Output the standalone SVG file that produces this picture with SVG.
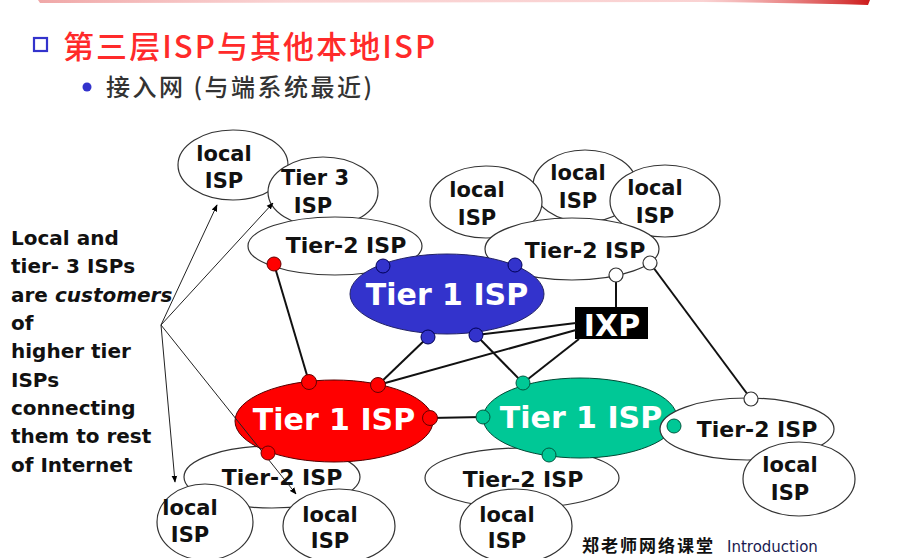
<svg xmlns="http://www.w3.org/2000/svg" width="912" height="558" viewBox="0 0 912 558">
<defs>
<linearGradient id="topbar" x1="0" y1="0" x2="1" y2="0">
<stop offset="0" stop-color="#e05050" stop-opacity="0.5"/>
<stop offset="0.3" stop-color="#f08080" stop-opacity="0.35"/>
<stop offset="0.8" stop-color="#f08080" stop-opacity="0.35"/>
<stop offset="1" stop-color="#cc1a1a"/>
</linearGradient>
<marker id="ah" viewBox="0 0 10 10" refX="9" refY="5" markerWidth="7" markerHeight="7" orient="auto" markerUnits="userSpaceOnUse">
<path d="M0,1 L10,5 L0,9 z" fill="#000"/>
</marker>
<style>
.isp{fill:#fff;stroke:#333;stroke-width:1.2}
.lbl{font-family:"DejaVu Sans","Liberation Sans",sans-serif;font-weight:bold;fill:#111;text-anchor:middle}
.loc{font-size:21px}
.t2{font-size:22px}
.t1{font-family:"DejaVu Sans","Liberation Sans",sans-serif;font-weight:bold;fill:#fff;font-size:30px;text-anchor:middle}
.side{font-family:"DejaVu Sans","Liberation Sans",sans-serif;font-weight:bold;fill:#111;font-size:20px}
.link{stroke:#111;stroke-width:2;fill:none}
.arr{stroke:#222;stroke-width:1;fill:none;marker-end:url(#ah)}
.dr{fill:#ff0000;stroke:#660000;stroke-width:1}
.db{fill:#3333cc;stroke:#000055;stroke-width:1}
.dg{fill:#00c896;stroke:#005a40;stroke-width:1}
.dw{fill:#fff;stroke:#333;stroke-width:1.2}
</style>
</defs>
<rect width="912" height="558" fill="#fff"/>
<path d="M38,0 L870,0 L868,5 Q800,3 700,2 L40,3 z" fill="url(#topbar)"/>

<g id="title">
<rect x="34" y="38" width="13" height="13" fill="#fff" stroke="#3333cc" stroke-width="2.2"/>
<text x="63" y="58" font-family="'Noto Sans CJK SC',sans-serif" font-size="31" font-weight="500" fill="#ff2a2a" textLength="372" lengthAdjust="spacing">第三层ISP与其他本地ISP</text>
<circle cx="87" cy="87" r="4.5" fill="#3333cc"/>
<text x="106" y="96" font-family="'Noto Sans CJK SC',sans-serif" font-size="24" font-weight="500" fill="#333" textLength="266" lengthAdjust="spacing">接入网 (与端系统最近)</text>
</g>

<g id="side-note">
<text class="side" x="11" y="245">Local and</text>
<text class="side" x="11" y="273">tier- 3 ISPs</text>
<text class="side" x="11" y="302">are <tspan font-style="italic">customers</tspan></text>
<text class="side" x="11" y="330">of</text>
<text class="side" x="11" y="358">higher tier</text>
<text class="side" x="11" y="387">ISPs</text>
<text class="side" x="11" y="415">connecting</text>
<text class="side" x="11" y="443">them to rest</text>
<text class="side" x="11" y="472">of Internet</text>
</g>

<g id="local-tl"><ellipse class="isp" cx="233" cy="165" rx="55" ry="35"/>
<text class="lbl loc" x="224" y="161">local</text><text class="lbl loc" x="224" y="188">ISP</text></g>
<g id="tier3"><ellipse class="isp" cx="323" cy="192" rx="55" ry="35"/>
<text class="lbl loc" x="315" y="185">Tier 3</text><text class="lbl loc" x="313" y="213">ISP</text></g>
<g id="tier2-l"><ellipse class="isp" cx="335" cy="246" rx="87" ry="29"/>
<text class="lbl t2" x="346" y="253">Tier-2 ISP</text></g>

<g id="local-tr2"><ellipse class="isp" cx="585" cy="186" rx="52" ry="36"/>
<text class="lbl loc" x="578" y="180">local</text><text class="lbl loc" x="578" y="208">ISP</text></g>
<g id="local-tr1"><ellipse class="isp" cx="486" cy="202" rx="56" ry="36"/>
<text class="lbl loc" x="477" y="197">local</text><text class="lbl loc" x="477" y="225">ISP</text></g>
<g id="local-tr3"><ellipse class="isp" cx="665" cy="201" rx="55" ry="36"/>
<text class="lbl loc" x="655" y="195">local</text><text class="lbl loc" x="655" y="223">ISP</text></g>
<g id="tier2-tr"><ellipse class="isp" cx="572" cy="249" rx="87" ry="31"/>
<text class="lbl t2" x="585" y="258">Tier-2 ISP</text></g>

<g id="tier1-blue"><ellipse cx="447" cy="294" rx="97" ry="40" fill="#3333cc" stroke="#222266" stroke-width="1"/>
<text class="t1" x="447" y="305">Tier 1 ISP</text></g>

<g id="ixp"><rect x="575" y="307" width="73" height="32" fill="#000"/>
<text class="t1" x="612" y="336" font-size="26">IXP</text></g>

<g id="tier2-bl"><ellipse class="isp" cx="272" cy="477" rx="88" ry="31"/>
<text class="lbl t2" x="282" y="485">Tier-2 ISP</text></g>
<g id="tier2-bm"><ellipse class="isp" cx="522" cy="478" rx="97" ry="30"/>
<text class="lbl t2" x="523" y="487">Tier-2 ISP</text></g>

<g id="tier1-red"><ellipse cx="334" cy="421" rx="99" ry="41" fill="#ff0000" stroke="#550000" stroke-width="1"/>
<text class="t1" x="334" y="430">Tier 1 ISP</text></g>
<g id="tier1-green"><ellipse cx="580" cy="418" rx="97" ry="40" fill="#00c896" stroke="#004a35" stroke-width="1"/>
<text class="t1" x="581" y="428">Tier 1 ISP</text></g>

<g id="tier2-r"><ellipse class="isp" cx="747" cy="429" rx="87" ry="31"/>
<text class="lbl t2" x="757" y="437">Tier-2 ISP</text></g>
<g id="local-r"><ellipse class="isp" cx="799" cy="479" rx="56" ry="37"/>
<text class="lbl loc" x="790" y="472">local</text><text class="lbl loc" x="790" y="500">ISP</text></g>

<g id="local-bl"><ellipse class="isp" cx="205" cy="522" rx="48" ry="38"/>
<text class="lbl loc" x="190" y="515">local</text><text class="lbl loc" x="190" y="542">ISP</text></g>
<g id="local-bm"><ellipse class="isp" cx="339" cy="526" rx="56" ry="37"/>
<text class="lbl loc" x="330" y="522">local</text><text class="lbl loc" x="330" y="548">ISP</text></g>
<g id="local-bm2"><ellipse class="isp" cx="516" cy="526" rx="56" ry="37"/>
<text class="lbl loc" x="507" y="522">local</text><text class="lbl loc" x="507" y="548">ISP</text></g>

<g id="connectors">
<line class="link" x1="274" y1="264" x2="309" y2="382"/>
<line class="link" x1="428" y1="337" x2="378" y2="385"/>
<line class="link" x1="476" y1="335" x2="523" y2="383"/>
<line class="link" x1="430" y1="418" x2="483" y2="417"/>
<line class="link" x1="616" y1="275" x2="616" y2="307"/>
<line class="link" x1="576" y1="323" x2="476" y2="335"/>
<line class="link" x1="576" y1="330" x2="378" y2="385"/>
<line class="link" x1="579" y1="339" x2="523" y2="383"/>
<line class="link" x1="650" y1="263" x2="751" y2="399"/>
<line class="arr" x1="161" y1="325" x2="217" y2="205"/>
<line class="arr" x1="161" y1="325" x2="273" y2="203"/>
<line class="arr" x1="161" y1="325" x2="175" y2="482"/>
<line class="arr" x1="161" y1="325" x2="296" y2="494"/>
<circle class="dr" cx="274" cy="264" r="7"/>
<circle class="db" cx="383" cy="266" r="7"/>
<circle class="db" cx="515" cy="265" r="7"/>
<circle class="db" cx="428" cy="337" r="7"/>
<circle class="db" cx="476" cy="335" r="7"/>
<circle class="dw" cx="616" cy="275" r="7"/>
<circle class="dw" cx="650" cy="263" r="7"/>
<circle class="dr" cx="309" cy="382" r="7.5"/>
<circle class="dr" cx="378" cy="385" r="7.5"/>
<circle class="dr" cx="430" cy="418" r="7.5"/>
<circle class="dr" cx="268" cy="453" r="7"/>
<circle class="dg" cx="523" cy="383" r="7"/>
<circle class="dg" cx="483" cy="417" r="7"/>
<circle class="dg" cx="549" cy="455" r="7"/>
<circle class="dg" cx="674" cy="426" r="7"/>
<circle class="dw" cx="751" cy="399" r="7"/>
</g>

<g id="footer">
<text x="582" y="552" font-family="'Noto Sans CJK SC',sans-serif" font-weight="bold" font-size="17" letter-spacing="2" fill="#111">郑老师网络课堂</text>
<text x="727" y="552" font-family="'DejaVu Sans','Liberation Sans',sans-serif" font-size="15" fill="#1a1a50">Introduction</text>
</g>
</svg>
